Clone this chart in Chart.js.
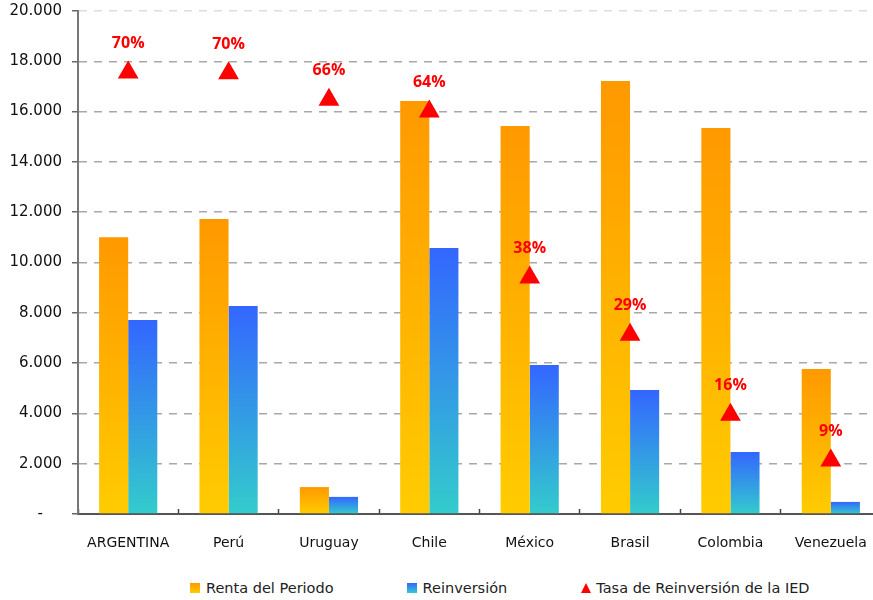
<!DOCTYPE html>
<html lang="es">
<head>
<meta charset="utf-8">
<title>Renta, reinversión y tasa de reinversión de la IED</title>
<script src="https://cdn.jsdelivr.net/npm/chart.js@4/dist/chart.umd.min.js"></script>
<style>
    html, body {
        margin: 0;
        padding: 0;
        background: #fff;
        overflow: hidden;
        width: 873px;
        height: 600px;
    }
    #wrap {
        position: relative;
        width: 882px;
        height: 560px;
    }
    #legend {
        position: absolute;
        left: 190px;
        top: 578px;
        display: flex;
        gap: 73px;
        font: 14.5px "DejaVu Sans", sans-serif;
        color: #222;
        white-space: nowrap;
    }
    #legend .item {
        display: flex;
        align-items: center;
        gap: 6px;
        height: 20px;
    }
    .sq {
        width: 10px;
        height: 10px;
    }
    .sq.renta { background: linear-gradient(#FF9900, #FFCC00); }
    .sq.reinv { background: linear-gradient(#3366FF, #33CCCC); }
    .tri {
        width: 0;
        height: 0;
        border-left: 5.5px solid transparent;
        border-right: 5.5px solid transparent;
        border-bottom: 10px solid #FF0000;
        margin-left: 1px;
        margin-right: -1px;
    }
</style>
</head>
<body>
<div id="wrap"><canvas id="ied-chart" width="882" height="560"></canvas></div>
<div id="legend">
    <div class="item"><span class="sq renta"></span><span>Renta del Periodo</span></div>
    <div class="item"><span class="sq reinv"></span><span>Reinversión</span></div>
    <div class="item"><span class="tri"></span><span>Tasa de Reinversión de la IED</span></div>
</div>
<script>
// datos
const paises = ['ARGENTINA', 'Perú', 'Uruguay', 'Chile', 'México', 'Brasil', 'Colombia', 'Venezuela'];
const renta = [11000, 11730, 1070, 16420, 15430, 17220, 15350, 5770];
const reinversion = [7710, 8270, 680, 10580, 5925, 4930, 2465, 480];
const tasa = [70.2, 70.1, 65.9, 64.0, 37.6, 28.5, 15.8, 8.5]; // %
const ejeY = [0, 2000, 4000, 6000, 8000, 10000, 12000, 14000, 16000, 18000, 20000];

Chart.defaults.font.family = '"DejaVu Sans", sans-serif';
Chart.defaults.color = '#222';

// gradiente vertical por barra (arriba -> base)
function barGradient(top, bottom) {
    return function(ctx) {
        const chart = ctx.chart;
        if (!chart.chartArea || ctx.type !== 'data') return bottom;
        const y = chart.scales.y;
        const y0 = y.getPixelForValue(ctx.raw);
        const y1 = y.getPixelForValue(0);
        if (!isFinite(y0) || y1 - y0 < 1) return bottom;
        const g = chart.ctx.createLinearGradient(0, y0, 0, y1);
        g.addColorStop(0, top);
        g.addColorStop(1, bottom);
        return g;
    };
}

function formatMiles(v) {
    if (v === 0) return '-    ';
    return String(v).replace(/\B(?=(\d{3})+(?!\d))/g, '.');
}

// etiquetas de porcentaje sobre los triángulos
const pctLabels = {
    id: 'pctLabels',
    afterDatasetsDraw(chart) {
        const meta = chart.getDatasetMeta(2);
        const c = chart.ctx;
        c.save();
        c.font = 'bold 16px "Open Sans", sans-serif';
        c.fillStyle = '#FF0000';
        c.textAlign = 'center';
        c.textBaseline = 'middle';
        meta.data.forEach((pt, i) => {
            c.fillText(Math.round(tasa[i]) + '%', pt.x, pt.y - 29);
        });
        c.restore();
    }
};

const ctx = document.getElementById('ied-chart').getContext('2d');

new Chart(ctx, {
    type: 'bar',
    data: {
        labels: paises,
        datasets: [{
            label: 'Renta del Periodo',
            data: renta,
            backgroundColor: barGradient('#FF9900', '#FFCC00'),
            categoryPercentage: 0.58,
            barPercentage: 1,
            order: 2
        }, {
            label: 'Reinversión',
            data: reinversion,
            backgroundColor: barGradient('#3366FF', '#33CCCC'),
            categoryPercentage: 0.58,
            barPercentage: 1,
            order: 2
        }, {
            type: 'line',
            label: 'Tasa de Reinversión de la IED',
            data: tasa,
            yAxisID: 'y2',
            showLine: false,
            clip: false,
            pointStyle: 'triangle',
            pointRadius: 12,
            pointBackgroundColor: '#FF0000',
            pointBorderColor: '#FF0000',
            pointBorderWidth: 0,
            order: 0
        }]
    },
    options: {
        responsive: false,
        animation: false,
        layout: {
            autoPadding: false,
            padding: { top: 11, right: 1, left: 0, bottom: 0 }
        },
        plugins: {
            legend: { display: false },
            tooltip: { enabled: false }
        },
        scales: {
            x: {
                grid: {
                    drawOnChartArea: false,
                    drawTicks: true,
                    tickLength: -5,
                    tickColor: '#444',
                    tickWidth: 1.5,
                    offset: true
                },
                border: { color: '#555', width: 2 },
                ticks: {
                    padding: 26,
                    font: { size: 14 },
                    color: '#111'
                },
                afterFit: function(scale) {
                    scale.height = 46;
                    scale.paddingLeft = 0;
                    scale.paddingRight = 0;
                }
            },
            y: {
                min: 0,
                max: 20000,
                afterBuildTicks: function(scale) {
                    scale.ticks = ejeY.map(v => ({ value: v }));
                },
                grid: {
                    color: function(c) {
                        return c.tick && c.tick.value === 20000 ? '#dddddd' : '#a8a8a8';
                    },
                    lineWidth: 1.5,
                    tickLength: 6,
                    tickColor: '#666',
                    tickWidth: 1.5
                },
                border: { color: '#777', width: 2, dash: [8, 7] },
                ticks: {
                    padding: 10,
                    font: { size: 15 },
                    color: '#111',
                    callback: function(v) { return formatMiles(v); }
                },
                afterFit: function(scale) {
                    scale.width = 78;
                    scale.paddingTop = 0;
                    scale.paddingBottom = 0;
                }
            },
            y2: {
                display: false,
                min: 0,
                max: 80
            }
        }
    },
    plugins: [pctLabels]
});
</script>
</body>
</html>
